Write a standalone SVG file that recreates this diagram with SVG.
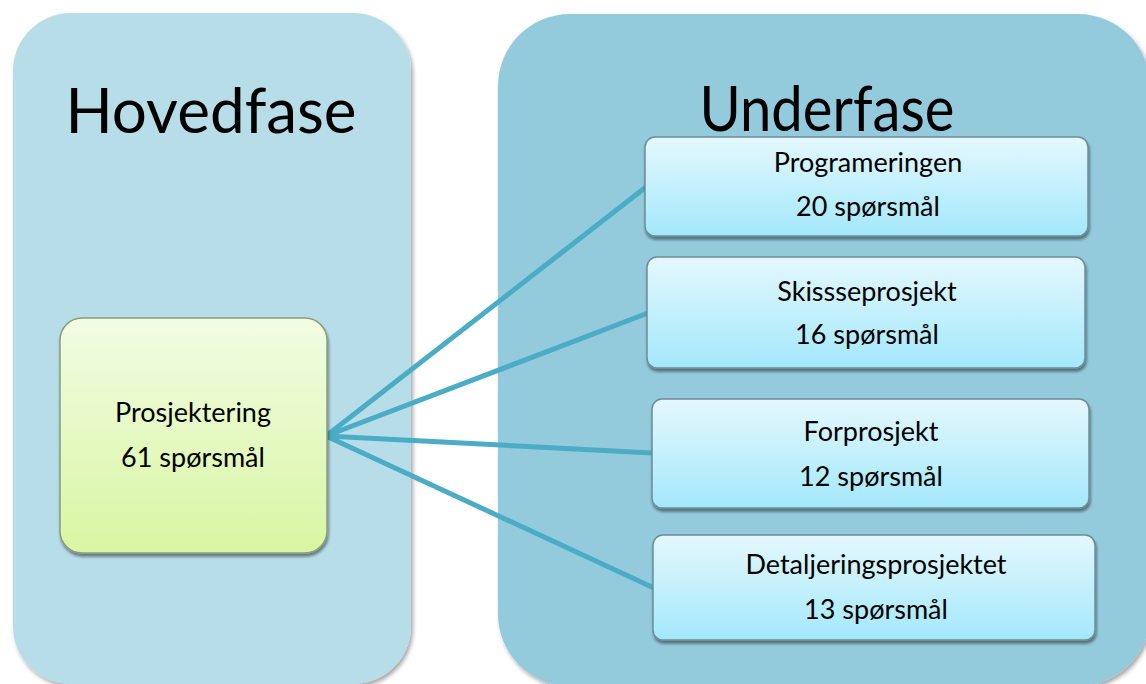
<svg xmlns="http://www.w3.org/2000/svg" width="1146" height="684" viewBox="0 0 1146 684">
  <defs>
    <linearGradient id="gGreen" x1="0" y1="0" x2="0" y2="1">
      <stop offset="0" stop-color="#F2FCE4"/>
      <stop offset="1" stop-color="#D8F6A2"/>
    </linearGradient>
    <linearGradient id="gBlue" x1="0" y1="0" x2="0" y2="1">
      <stop offset="0" stop-color="#E4F8FD"/>
      <stop offset="1" stop-color="#A3E8FB"/>
    </linearGradient>
    <filter id="panelShadow" x="-5%" y="-5%" width="112%" height="112%">
      <feGaussianBlur in="SourceAlpha" stdDeviation="2"/>
      <feOffset dx="2" dy="3" result="b"/>
      <feComponentTransfer><feFuncA type="linear" slope="0.35"/></feComponentTransfer>
      <feMerge><feMergeNode/><feMergeNode in="SourceGraphic"/></feMerge>
    </filter>
    <filter id="boxShadow" x="-5%" y="-10%" width="112%" height="125%">
      <feGaussianBlur in="SourceAlpha" stdDeviation="1.5"/>
      <feOffset dx="1" dy="3" result="b"/>
      <feComponentTransfer><feFuncA type="linear" slope="0.45"/></feComponentTransfer>
      <feMerge><feMergeNode/><feMergeNode in="SourceGraphic"/></feMerge>
    </filter>
  </defs>
  <style>
    .heading { font-family: Lato, "Liberation Sans", sans-serif; font-size: 62px; fill: #000; text-anchor: middle; }
    .label { font-family: Lato, "Liberation Sans", sans-serif; font-size: 27px; fill: #000; text-anchor: middle; }
    .sub { stroke: #6F8D96; stroke-width: 1.5; fill: url(#gBlue); filter: url(#boxShadow); }
    .link { stroke: #4BACC6; stroke-width: 5; fill: none; stroke-linecap: round; }
  </style>

  <rect width="1146" height="684" fill="#FFFFFF"/>

  <!-- phase panels -->
  <g id="hovedfase-panel">
    <rect x="13" y="13" width="398" height="671" rx="58" fill="#B7DDE8" filter="url(#panelShadow)"/>
    <text class="heading" x="211" y="133">Hovedfase</text>
  </g>
  <g id="underfase-panel">
    <rect x="498" y="14" width="652" height="672" rx="72" fill="#93CBDC" filter="url(#panelShadow)"/>
    <text class="heading" x="827" y="131" textLength="255" lengthAdjust="spacingAndGlyphs">Underfase</text>
  </g>

  <!-- connectors -->
  <g id="connectors">
    <line class="link" x1="326" y1="436" x2="646" y2="187"/>
    <line class="link" x1="326" y1="436" x2="648" y2="313"/>
    <line class="link" x1="326" y1="436" x2="652" y2="453"/>
    <line class="link" x1="326" y1="436" x2="654" y2="588"/>
  </g>

  <g id="prosjektering">
    <rect x="60" y="318" width="267" height="235" rx="22" fill="url(#gGreen)" stroke="#8C9C7A" stroke-width="1.5" filter="url(#boxShadow)"/>
    <text class="label" x="193" y="422">Prosjektering</text>
    <text class="label" x="193" y="467">61 spørsmål</text>
  </g>

  <g id="programeringen">
    <rect class="sub" x="645" y="137" width="443" height="99" rx="10"/>
    <text class="label" x="868" y="172">Programeringen</text>
    <text class="label" x="868" y="216">20 spørsmål</text>
  </g>
  <g id="skissseprosjekt">
    <rect class="sub" x="647" y="257" width="438" height="111" rx="10"/>
    <text class="label" x="867" y="301">Skissseprosjekt</text>
    <text class="label" x="867" y="344">16 spørsmål</text>
  </g>
  <g id="forprosjekt">
    <rect class="sub" x="652" y="399" width="437" height="109" rx="10"/>
    <text class="label" x="871" y="441">Forprosjekt</text>
    <text class="label" x="871" y="486">12 spørsmål</text>
  </g>
  <g id="detaljeringsprosjektet">
    <rect class="sub" x="653" y="535" width="442" height="105" rx="10"/>
    <text class="label" x="876" y="574">Detaljeringsprosjektet</text>
    <text class="label" x="876" y="619">13 spørsmål</text>
  </g>
</svg>
